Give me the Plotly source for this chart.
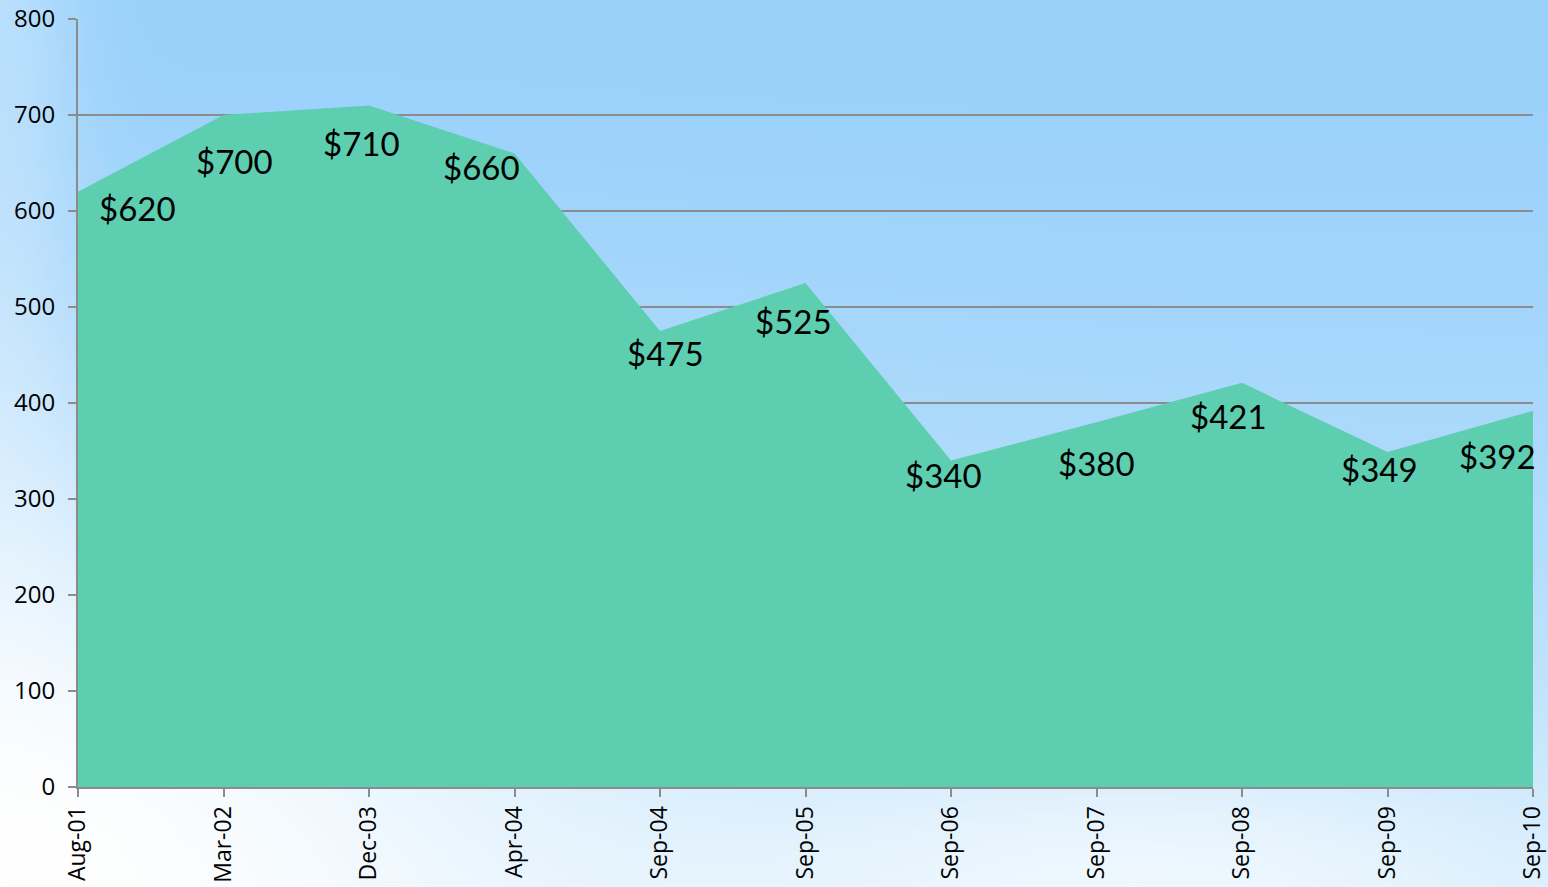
import base64, struct, zlib
import numpy as np
import plotly.graph_objects as go

categories = ["Aug-01", "Mar-02", "Dec-03", "Apr-04", "Sep-04", "Sep-05",
              "Sep-06", "Sep-07", "Sep-08", "Sep-09", "Sep-10"]
prices = [620, 700, 710, 660, 475, 525, 340, 380, 421, 349, 392]
label_texts = ["$" + str(v) for v in prices]
# label offsets (pixels) relative to each point, as placed in the original
label_dx = [59, 11, -8, -33, 5, -12, -8, 0, -14, -8, -36]
label_dy = [-16, -46, -38, -14, -22, -38, -14, -41, -33, -17, -45]

W, H = 1548, 887
ML, MR, MT, MB = 78, 15, 19, 100


def make_bg_png(w=200, h=115):
    ys, xs = np.mgrid[0:h, 0:w]
    fx = xs / (w - 1)
    fy = ys / (h - 1)
    top = np.array([153, 209, 251], float)
    bot = np.array([212, 236, 253], float)
    t = np.clip(fy, 0, 1) ** 1.6
    img = top[None, None, :] * (1 - t[..., None]) + bot[None, None, :] * t[..., None]
    # lighter left edge
    le = np.exp(-(fx / 0.05) ** 2) * 0.3
    img = img * (1 - le[..., None]) + 255 * le[..., None]
    # white glow bottom-left
    g = np.exp(-((fx / 0.4) ** 2 + ((1 - fy) / 0.45) ** 2))
    # glow bottom middle/right
    g2 = 0.6 * np.exp(-(((fx - 0.75) / 0.25) ** 2 + ((1 - fy) / 0.15) ** 2))
    g = np.clip(g + g2, 0, 1)
    img = img * (1 - g[..., None]) + 255 * g[..., None]
    img = np.clip(img, 0, 255).astype(np.uint8)
    raw = b"".join(b"\x00" + img[r].tobytes() for r in range(h))

    def chunk(tag, data):
        c = struct.pack(">I", len(data)) + tag + data
        return c + struct.pack(">I", zlib.crc32(tag + data) & 0xffffffff)

    png = b"\x89PNG\r\n\x1a\n"
    png += chunk(b"IHDR", struct.pack(">IIBBBBB", w, h, 8, 2, 0, 0, 0))
    png += chunk(b"IDAT", zlib.compress(raw, 9))
    png += chunk(b"IEND", b"")
    return "data:image/png;base64," + base64.b64encode(png).decode()


fig = go.Figure()
fig.add_trace(go.Scatter(
    x=categories, y=prices, mode="lines", fill="tozeroy",
    fillcolor="#5dceb0", line=dict(width=0, color="#5dceb0"),
    hoverinfo="x+y", showlegend=False,
))

for c, v, txt, dx, dy in zip(categories, prices, label_texts, label_dx, label_dy):
    fig.add_annotation(x=c, y=v, text=txt, showarrow=False,
                       xshift=dx, yshift=dy, xanchor="center", yanchor="middle",
                       font=dict(family="Lato, 'Open Sans', sans-serif", size=33, color="#000000"))

pw = W - ML - MR
ph = H - MT - MB
fig.add_layout_image(dict(
    source=make_bg_png(), xref="paper", yref="paper",
    x=-ML / pw, y=1 + MT / ph, sizex=W / pw, sizey=H / ph,
    xanchor="left", yanchor="top", sizing="stretch", layer="below",
))

grey = "#8c8c8c"
fig.update_layout(
    width=W, height=H,
    margin=dict(l=ML, r=MR, t=MT, b=MB, pad=0, autoexpand=False),
    paper_bgcolor="#b8def9", plot_bgcolor="rgba(0,0,0,0)",
    font=dict(family="'Open Sans', 'Noto Sans', sans-serif", color="#000000"),
    xaxis=dict(type="category", range=[0, len(categories) - 1], showgrid=False,
               showline=True, linecolor=grey, linewidth=2, automargin=False,
               ticks="outside", ticklen=8, tickwidth=2, tickcolor=grey,
               tickangle=-90, tickfont=dict(size=23), zeroline=False, fixedrange=True),
    yaxis=dict(range=[0, 800], dtick=100, showgrid=True, gridcolor=grey, gridwidth=2,
               showline=True, linecolor=grey, linewidth=2, automargin=False,
               ticks="outside", ticklen=8, tickwidth=2, tickcolor=grey,
               ticklabelstandoff=8,
               tickfont=dict(size=24), zeroline=False, fixedrange=True),
)

fig.write_html("out.html", config={"displayModeBar": False},
               post_script="document.body.style.margin='0';document.body.style.overflow='hidden';")
